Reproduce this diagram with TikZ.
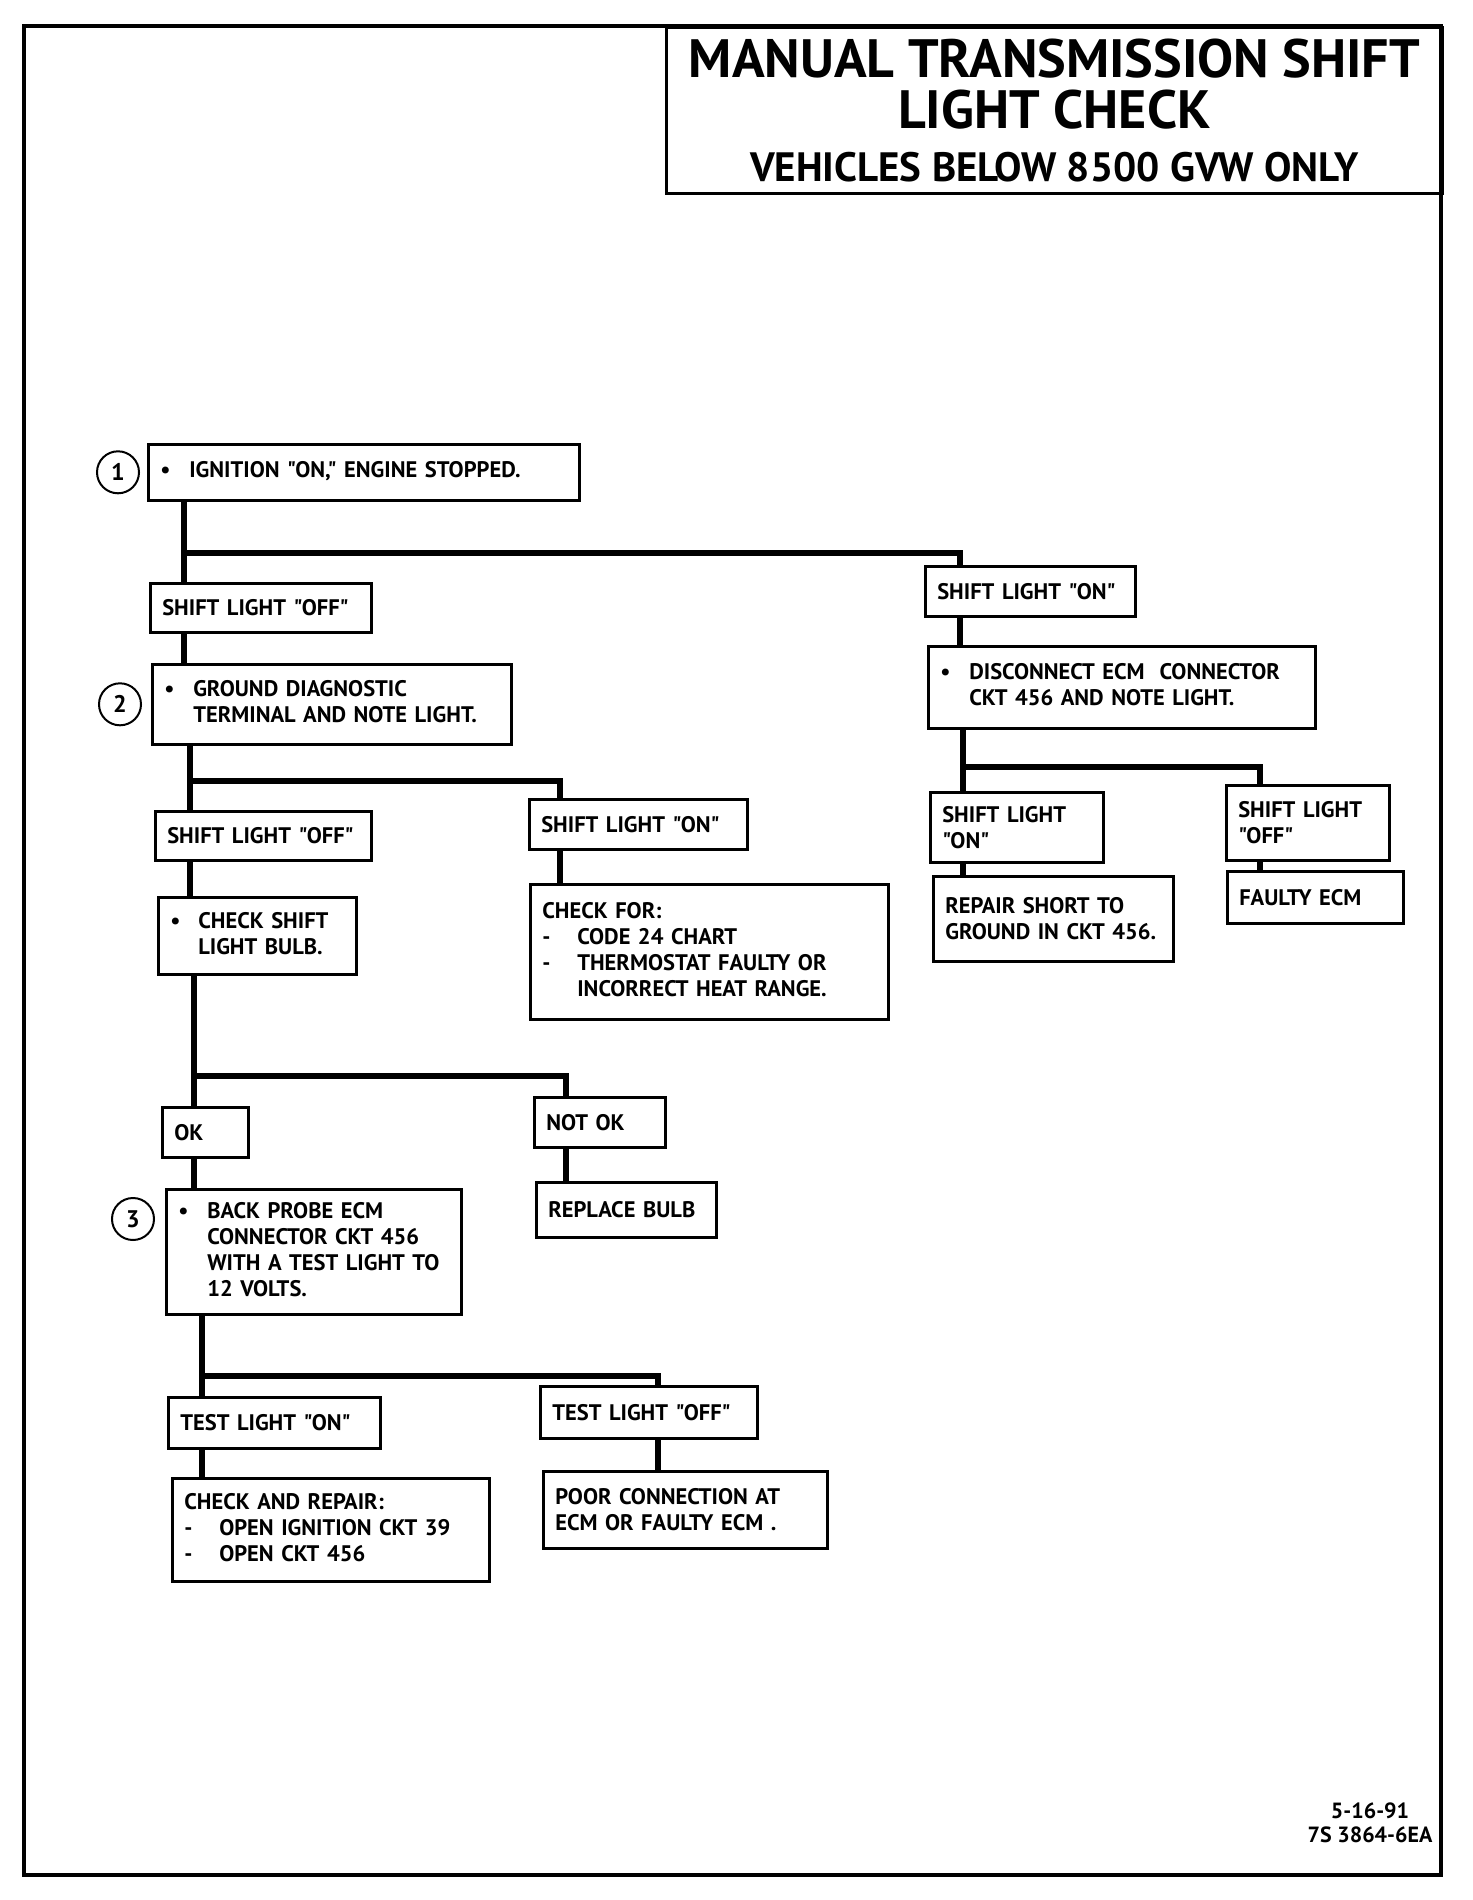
\documentclass[tikz,border=0pt]{standalone}
\usepackage{fontspec}
\usepackage{tikz}
\usetikzlibrary{positioning}
\newfontfamily\chartfont{PT Sans}
\newcommand\boxfont{\chartfont\bfseries\fontsize{22.5}{26}\selectfont}
\newcommand\headfont{\chartfont\bfseries\fontsize{54}{51}\selectfont}
\newcommand\subheadfont{\chartfont\bfseries\fontsize{41}{51}\selectfont}

\begin{document}
\begin{tikzpicture}[
    x=1pt, y=-1pt,
    stepbox/.style={
        rectangle,
        draw=black,
        line width=2.6pt,
        anchor=north west,
        inner xsep=12pt,
        inner ysep=3pt,
        align=left,
        font=\boxfont
    },
    num/.style={
        circle,
        draw=black,
        line width=2pt,
        minimum size=42pt,
        inner sep=0pt,
        font=\chartfont\bfseries\fontsize{24}{26}\selectfont
    },
    link/.style={
        line width=5.5pt
    }
    ]
    \useasboundingbox (0,0) rectangle (1472,1900);

    % page frame and title
    \draw[line width=4pt] (24,26) rectangle (1441,1875);
    \node[draw=black, line width=3pt, anchor=north west, inner sep=0pt,
          minimum width=776pt, minimum height=166pt, align=center, font=\headfont] (title) at (665,26) {
        {\headfont MANUAL TRANSMISSION SHIFT}\\
        {\headfont LIGHT CHECK}\\[2pt]
        {\subheadfont VEHICLES BELOW 8500 GVW ONLY}
    };

    % step 1
    \node[stepbox, text width=407pt, minimum height=56pt] (ign) at (147,443) {
    \begin{tabular}{@{}p{29pt}@{}l@{}}
        \textbullet & IGNITION "ON," ENGINE STOPPED. \\
    \end{tabular}
    };
    \node[num, left=7pt of ign] (n1) {1};

    \node[stepbox, text width=197pt, minimum height=49pt] (offA) at (149,582) {SHIFT LIGHT "OFF"};
    \node[stepbox, text width=186pt, minimum height=50pt] (onR) at (924,565) {SHIFT LIGHT "ON"};

    % step 2
    \node[stepbox, text width=335pt, minimum height=80pt] (gnd) at (151,663) {
    \begin{tabular}{@{}p{29pt}@{}l@{}}
        \textbullet & GROUND DIAGNOSTIC \\
         & TERMINAL AND NOTE LIGHT. \\
    \end{tabular}
    };
    \node[num, left=9pt of gnd] (n2) {2};

    \node[stepbox, text width=192pt, minimum height=49pt] (offB) at (154,810) {SHIFT LIGHT "OFF"};
    \node[stepbox, text width=194pt, minimum height=50pt] (onB) at (528,798) {SHIFT LIGHT "ON"};

    \node[stepbox, text width=174pt, minimum height=77pt] (bulb) at (157,896) {
    \begin{tabular}{@{}p{28pt}@{}l@{}}
        \textbullet & CHECK SHIFT \\
         & LIGHT BULB. \\
    \end{tabular}
    };

    \node[stepbox, text width=334pt, minimum height=135pt] (chkfor) at (529,883) {
    \begin{tabular}{@{}p{35pt}@{}l@{}}
        \multicolumn{2}{@{}l@{}}{CHECK FOR:} \\
        - & CODE 24 CHART \\
        - & THERMOSTAT FAULTY OR \\
         & INCORRECT HEAT RANGE. \\
    \end{tabular}
    };

    \node[stepbox, text width=62pt, minimum height=50pt] (ok) at (161,1106) {OK};
    \node[stepbox, text width=107pt, minimum height=50pt] (notok) at (533,1096) {NOT OK};
    \node[stepbox, text width=156pt, minimum height=55pt] (repl) at (535,1181) {REPLACE BULB};

    % step 3
    \node[stepbox, text width=271pt, minimum height=125pt] (probe) at (165,1188) {
    \begin{tabular}{@{}p{29pt}@{}l@{}}
        \textbullet & BACK PROBE ECM \\
         & CONNECTOR CKT 456 \\
         & WITH A TEST LIGHT TO \\
         & 12 VOLTS. \\
    \end{tabular}
    };
    \node[num] (n3) at (133,1219) {3};

    \node[stepbox, text width=188pt, minimum height=51pt] (tlon) at (167,1396) {TEST LIGHT "ON"};
    \node[stepbox, text width=193pt, minimum height=52pt] (tloff) at (539,1385) {TEST LIGHT "OFF"};

    \node[stepbox, text width=293pt, minimum height=103pt] (chkrep) at (171,1477) {
    \begin{tabular}{@{}p{35pt}@{}l@{}}
        \multicolumn{2}{@{}l@{}}{CHECK AND REPAIR:} \\
        - & OPEN IGNITION CKT 39 \\
        - & OPEN CKT 456 \\
    \end{tabular}
    };
    \node[stepbox, text width=260pt, minimum height=77pt] (poor) at (542,1470) {POOR CONNECTION AT\\ECM OR FAULTY ECM .};

    % right branch
    \node[stepbox, text width=363pt, minimum height=82pt] (disc) at (927,645) {
    \begin{tabular}{@{}p{29pt}@{}l@{}}
        \textbullet & DISCONNECT ECM\ \ CONNECTOR \\
         & CKT 456 AND NOTE LIGHT. \\
    \end{tabular}
    };
    \node[stepbox, text width=149pt, minimum height=70pt] (onR2) at (929,791) {SHIFT LIGHT\\"ON"};
    \node[stepbox, text width=139pt, minimum height=75pt] (offR2) at (1225,784) {SHIFT LIGHT\\"OFF"};
    \node[stepbox, text width=216pt, minimum height=85pt] (short) at (932,875) {REPAIR SHORT TO\\GROUND IN CKT 456.};
    \node[stepbox, text width=152pt, minimum height=52pt] (faulty) at (1226,870) {FAULTY ECM};

    % drawing code
    \node[font=\chartfont\bfseries\fontsize{22}{24}\selectfont, align=center] (code) at (1370,1823) {5-16-91\\7S 3864-6EA};

    % branch points
    \coordinate (j1) at (184,553);  \coordinate (j1r) at (960,553);
    \coordinate (j2) at (190,781);  \coordinate (j2r) at (560,781);
    \coordinate (j3) at (194,1076); \coordinate (j3r) at (566,1076);
    \coordinate (j4) at (202,1376); \coordinate (j4r) at (658,1376);
    \coordinate (j5) at (963,767);  \coordinate (j5r) at (1260,767);

    \draw[link] (ign.south -| j1) -- (offA.north -| j1);
    \draw[link] (j1) -- (j1r) -- (onR.north -| j1r);
    \draw[link] (offA.south -| j1) -- (gnd.north -| j1);
    \draw[link] (onR.south -| j1r) -- (disc.north -| j1r);

    \draw[link] (gnd.south -| j2) -- (offB.north -| j2);
    \draw[link] (j2) -- (j2r) -- (onB.north -| j2r);
    \draw[link] (offB.south -| j2) -- (bulb.north -| j2);
    \draw[link] (onB.south -| j2r) -- (chkfor.north -| j2r);

    \draw[link] (bulb.south -| j3) -- (ok.north -| j3);
    \draw[link] (j3) -- (j3r) -- (notok.north -| j3r);
    \draw[link] (ok.south -| j3) -- (probe.north -| j3);
    \draw[link] (notok.south -| j3r) -- (repl.north -| j3r);

    \draw[link] (probe.south -| j4) -- (tlon.north -| j4);
    \draw[link] (j4) -- (j4r) -- (tloff.north -| j4r);
    \draw[link] (tlon.south -| j4) -- (chkrep.north -| j4);
    \draw[link] (tloff.south -| j4r) -- (poor.north -| j4r);

    \draw[link] (disc.south -| j5) -- (onR2.north -| j5);
    \draw[link] (j5) -- (j5r) -- (offR2.north -| j5r);
    \draw[link] (onR2.south -| j5) -- (short.north -| j5);
    \draw[link] (offR2.south -| j5r) -- (faulty.north -| j5r);
\end{tikzpicture}
\end{document}
